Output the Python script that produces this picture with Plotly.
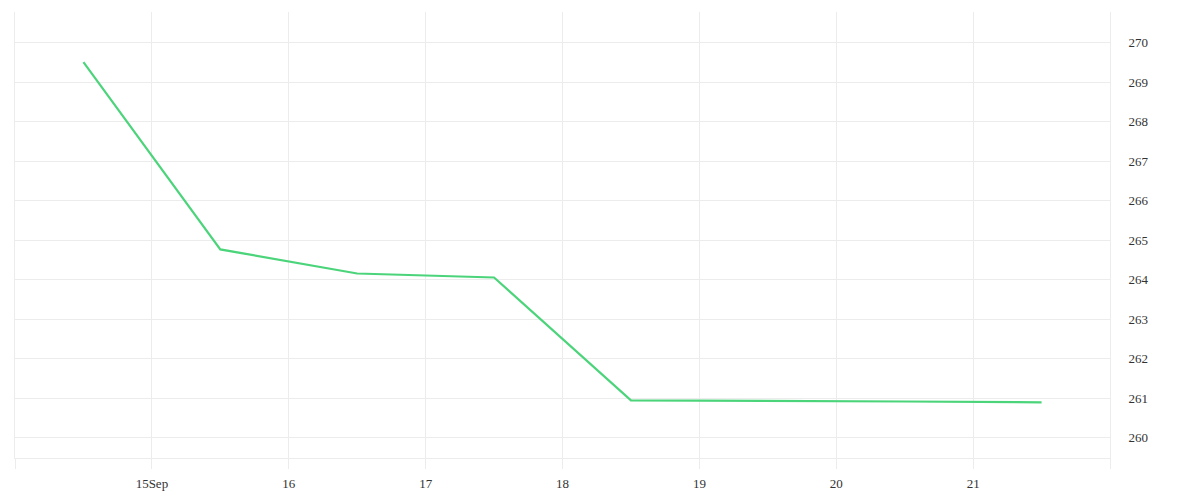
import plotly.graph_objects as go

# daily values, sampled at midday
dates = ["2023-09-14 12:00", "2023-09-15 12:00", "2023-09-16 12:00", "2023-09-17 12:00",
         "2023-09-18 12:00", "2023-09-19 12:00", "2023-09-20 12:00", "2023-09-21 12:00"]
values = [269.51, 264.77, 264.16, 264.06, 260.95, 260.94, 260.92, 260.90]

tick_dates = ["2023-09-14", "2023-09-15", "2023-09-16", "2023-09-17", "2023-09-18",
              "2023-09-19", "2023-09-20", "2023-09-21", "2023-09-22"]
tick_text = ["", "15Sep", "16", "17", "18", "19", "20", "21", ""]

y_ticks = [260, 261, 262, 263, 264, 265, 266, 267, 268, 269, 270]

grid = "#ececec"
font = dict(family="Liberation Serif, DejaVu Serif, serif", size=13, color="#333333")

fig = go.Figure(
    go.Scatter(
        x=dates,
        y=values,
        mode="lines",
        line=dict(color="#4cd47b", width=2.2),
        hoverinfo="x+y",
    )
)

# page body adds an 8px margin, so the figure is sized to sit inside the window
fig.update_layout(
    width=1184,
    height=492,
    margin=dict(l=7, r=82, t=4, b=42),
    plot_bgcolor="white",
    paper_bgcolor="white",
    font=font,
    showlegend=False,
    xaxis=dict(
        type="date",
        range=["2023-09-14", "2023-09-22"],
        tickmode="array",
        tickvals=tick_dates,
        ticktext=tick_text,
        showgrid=True,
        gridcolor=grid,
        gridwidth=1,
        ticks="outside",
        ticklen=10,
        tickcolor=grid,
        showline=True,
        linecolor=grid,
        linewidth=1,
        zeroline=False,
        ticklabelstandoff=3,
        automargin=False,
    ),
    yaxis=dict(
        side="right",
        range=[259.49, 270.78],
        tickmode="array",
        tickvals=y_ticks,
        showgrid=True,
        gridcolor=grid,
        gridwidth=1,
        ticks="",
        ticklabelstandoff=15,
        showline=True,
        mirror=True,
        linecolor=grid,
        linewidth=1,
        zeroline=False,
        automargin=False,
    ),
)

fig.write_html("out.html")
